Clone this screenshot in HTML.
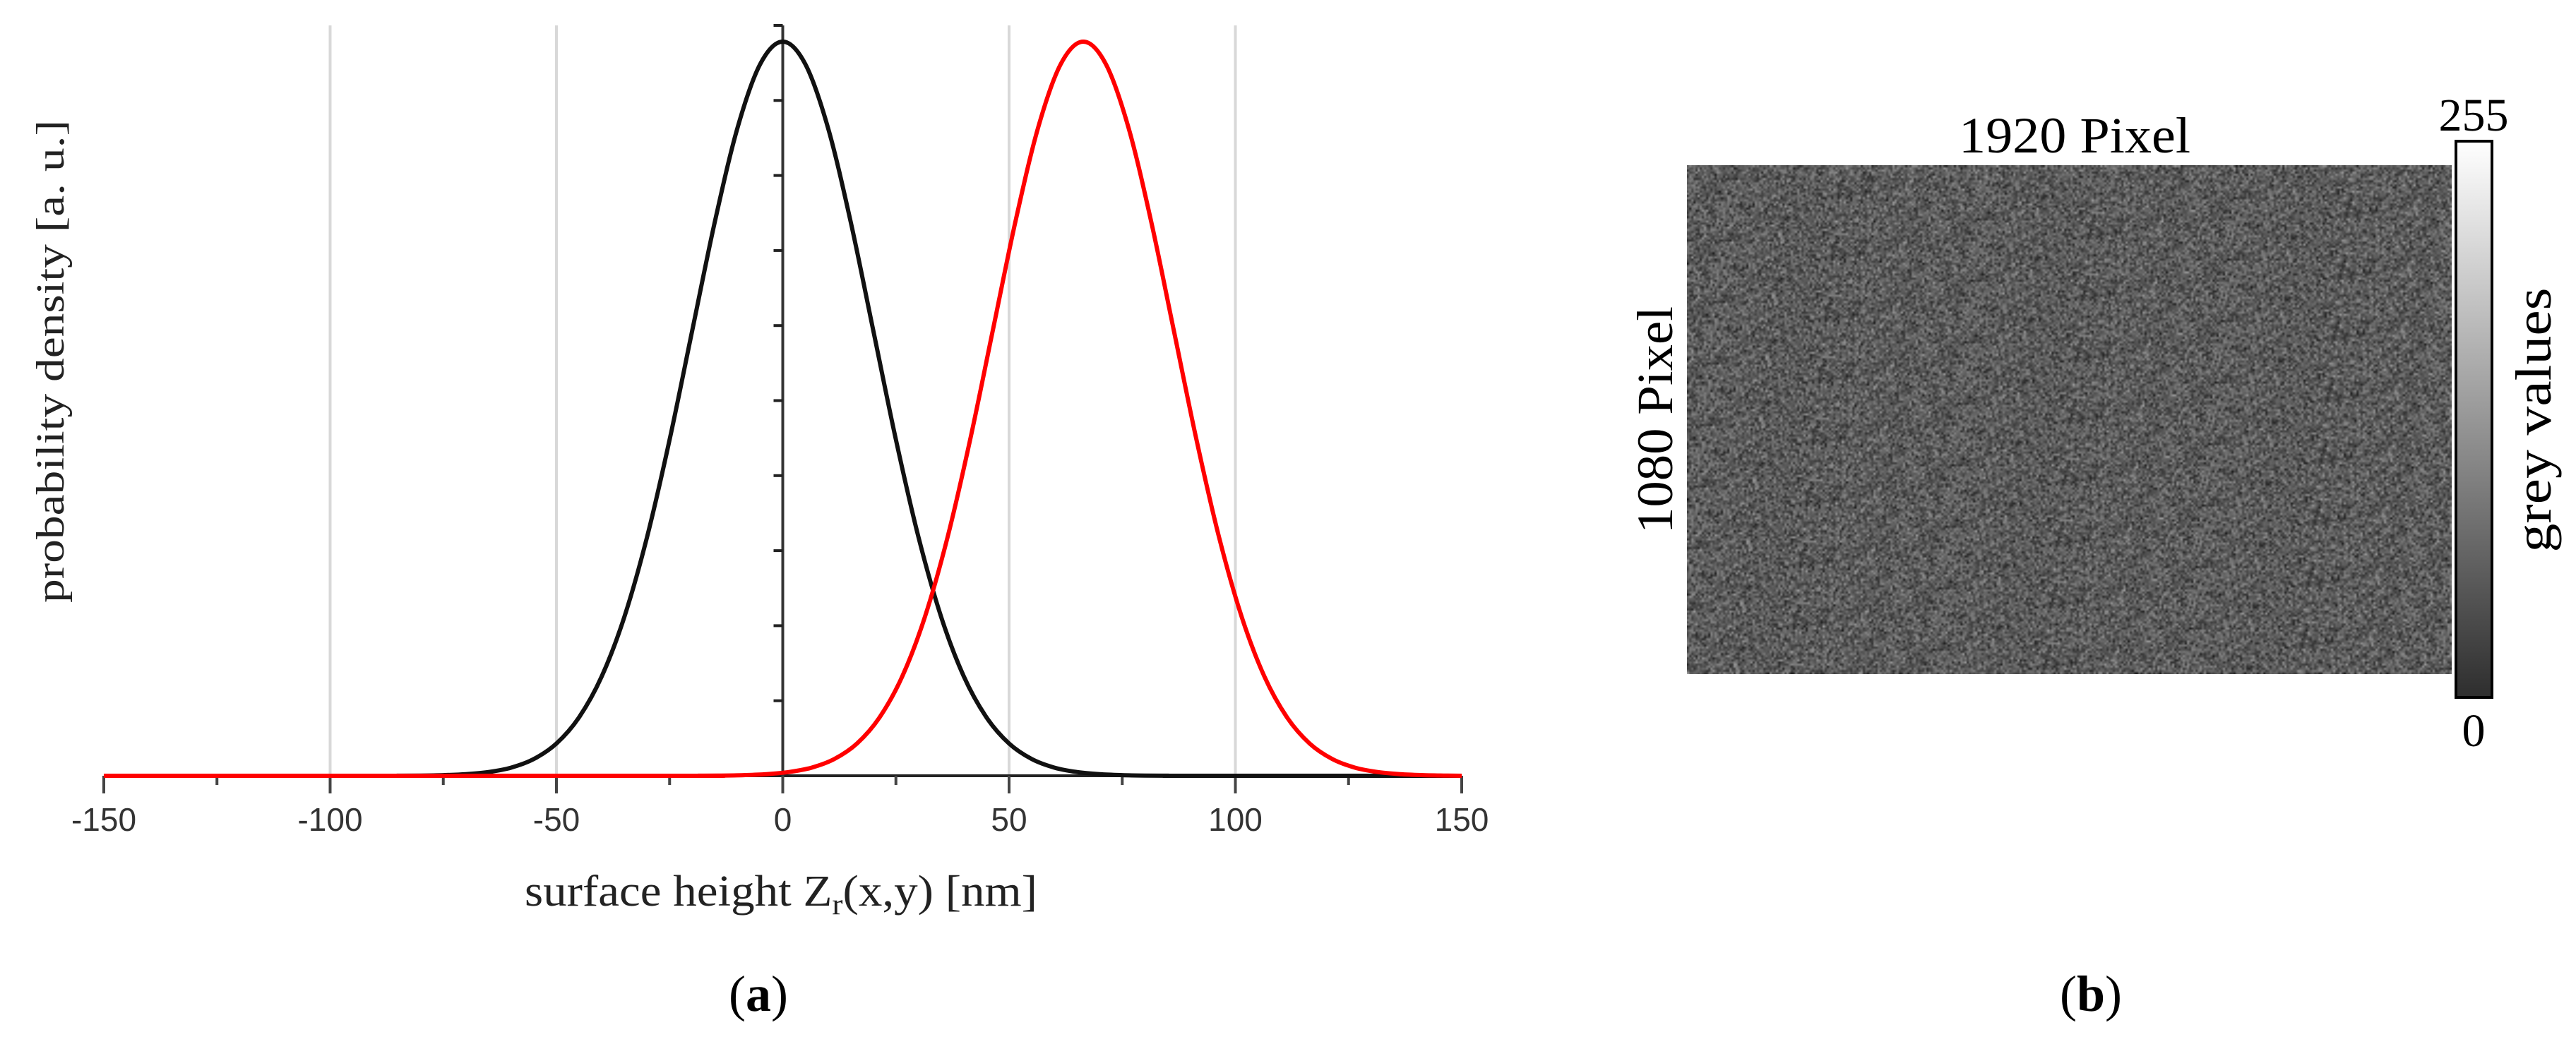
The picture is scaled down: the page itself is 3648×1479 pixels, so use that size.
<!DOCTYPE html>
<html><head><meta charset="utf-8"><style>
html,body{margin:0;padding:0;background:#fff}
body{width:3648px;height:1479px;position:relative;overflow:hidden}
svg{position:absolute;left:0;top:0}
</style></head><body>
<svg id="chart" width="3648" height="1479" viewBox="0 0 3648 1479" xmlns="http://www.w3.org/2000/svg">
<g id="grid"></g>
<g id="axes"></g>
<g id="series"></g>
<text x="0" y="0" transform="translate(90,512) rotate(-90)" text-anchor="middle" font-family="Liberation Serif, serif" font-size="56" fill="#222" textLength="684" lengthAdjust="spacingAndGlyphs">probability density [a. u.]</text>
<text x="743" y="1283" font-family="Liberation Serif, serif" font-size="62" fill="#222" textLength="726" lengthAdjust="spacingAndGlyphs">surface height Z<tspan font-size="42" dy="12">r</tspan><tspan dy="-12">(x,y) [nm]</tspan></text>
<text x="1074" y="1432" text-anchor="middle" font-family="Liberation Serif, serif" font-size="72" fill="#000">(<tspan font-weight="bold">a</tspan>)</text>

<text x="2938" y="216" text-anchor="middle" font-family="Liberation Serif, serif" font-size="72" fill="#000" textLength="328" lengthAdjust="spacingAndGlyphs">1920 Pixel</text>
<text x="0" y="0" transform="translate(2368,595) rotate(-90)" text-anchor="middle" font-family="Liberation Serif, serif" font-size="72" fill="#000" textLength="322" lengthAdjust="spacingAndGlyphs">1080 Pixel</text>
<foreignObject x="2389" y="234" width="1083" height="721">
<canvas id="noise" width="361" height="240" style="width:1083px;height:721px;display:block;image-rendering:auto" xmlns="http://www.w3.org/1999/xhtml"></canvas>
</foreignObject>
<defs><linearGradient id="cb" x1="0" y1="1" x2="0" y2="0"><stop offset="0" stop-color="#2e2e2e"/><stop offset="1" stop-color="#ffffff"/></linearGradient></defs>
<rect x="3478" y="200" width="51" height="788" fill="url(#cb)" stroke="#000" stroke-width="4"/>
<text x="3503" y="185" text-anchor="middle" font-family="Liberation Serif, serif" font-size="66" fill="#000">255</text>
<text x="3503" y="1057" text-anchor="middle" font-family="Liberation Serif, serif" font-size="66" fill="#000">0</text>
<text x="0" y="0" transform="translate(3612,595) rotate(-90)" text-anchor="middle" font-family="Liberation Serif, serif" font-size="72" fill="#000" textLength="375" lengthAdjust="spacingAndGlyphs">grey values</text>
<text x="2961" y="1432" text-anchor="middle" font-family="Liberation Serif, serif" font-size="72" fill="#000">(<tspan font-weight="bold">b</tspan>)</text>
</svg>
<script>
const xTicks = [-150, -100, -50, 0, 50, 100, 150];
const xTickLabels = ["-150", "-100", "-50", "0", "50", "100", "150"];
const gridValues = [-100, -50, 50, 100];
const blackX = [-150,-90,-85,-80,-75,-70,-65,-60,-55,-50,-45,-40,-35,-30,-25,-20,-15,-10,-5,0,5,10,15,20,25,30,35,40,45,50,55,60,65,70,75,80,85,90,150];
const blackY = [0,0,0.0001,0.0003,0.0009,0.0022,0.0051,0.0111,0.0228,0.0439,0.0796,0.1353,0.2163,0.3247,0.4578,0.6065,0.7548,0.8825,0.9692,1,0.9692,0.8825,0.7548,0.6065,0.4578,0.3247,0.2163,0.1353,0.0796,0.0439,0.0228,0.0111,0.0051,0.0022,0.0009,0.0003,0.0001,0,0];
const redX = [-150,-23.6,-18.6,-13.6,-8.6,-3.6,1.4,6.4,11.4,16.4,21.4,26.4,31.4,36.4,41.4,46.4,51.4,56.4,61.4,66.4,71.4,76.4,81.4,86.4,91.4,96.4,101.4,106.4,111.4,116.4,121.4,126.4,131.4,136.4,141.4,146.4,150];
const redY = [0,0,0.0001,0.0003,0.0009,0.0022,0.0051,0.0111,0.0228,0.0439,0.0796,0.1353,0.2163,0.3247,0.4578,0.6065,0.7548,0.8825,0.9692,1,0.9692,0.8825,0.7548,0.6065,0.4578,0.3247,0.2163,0.1353,0.0796,0.0439,0.0228,0.0111,0.0051,0.0022,0.0009,0.0003,0];

const X0 = 147, X1 = 2070, Y0 = 1099, YT = 59, YTOP = 36;
function sx(v){ return X0 + (v + 150) / 300 * (X1 - X0); }
function sy(v){ return Y0 - v * (Y0 - YT); }
const NS = "http://www.w3.org/2000/svg";
function mk(tag, attrs, parent){ const e = document.createElementNS(NS, tag); for (const k in attrs) e.setAttribute(k, attrs[k]); parent.appendChild(e); return e; }

const grid = document.getElementById('grid');
gridValues.forEach(v => {
  const l = mk('line', {x1: sx(v), x2: sx(v), y1: YTOP, y2: Y0, stroke: '#d8d8d8', 'stroke-width': 4}, grid);
  
  
});

const axes = document.getElementById('axes');
const xa = mk('line', {x1: X0, x2: X1, y1: Y0, y2: Y0, stroke: '#222', 'stroke-width': 4}, axes);


const ya = mk('line', {x1: sx(0), x2: sx(0), y1: YTOP, y2: Y0, stroke: '#333', 'stroke-width': 4}, axes);


for (let v = -150; v <= 150; v += 25) {
  const major = v % 50 === 0;
  const t = mk('line', {x1: sx(v), x2: sx(v), y1: Y0, y2: Y0 + (major ? 25 : 13), stroke: '#444', 'stroke-width': 4}, axes);
  
  
}
xTicks.forEach((v, i) => {
  const t = mk('text', {x: sx(v), y: 1177, 'text-anchor': 'middle', 'font-family': 'Liberation Sans, sans-serif', 'font-size': 46, fill: '#333'}, axes);
  t.textContent = xTickLabels[i];
  
  
});
for (let k = 1; k <= 10; k++) {
  const y = Y0 - k * (Y0 - YTOP) / 10;
  const t = mk('line', {x1: sx(0) - 13, x2: sx(0), y1: y, y2: y, stroke: '#222', 'stroke-width': 4}, axes);
  
  
}

function smoothPath(xs, ys){
  const p = xs.map((x, i) => [sx(x), sy(ys[i])]);
  let d = 'M' + p[0][0] + ',' + p[0][1];
  for (let i = 0; i < p.length - 1; i++) {
    const a = p[i - 1] || p[i], b = p[i], c = p[i + 1], e = p[i + 2] || c;
    const c1x = b[0] + (c[0] - a[0]) / 6, c1y = b[1] + (c[1] - a[1]) / 6;
    const c2x = c[0] - (e[0] - b[0]) / 6, c2y = c[1] - (e[1] - b[1]) / 6;
    d += ' C' + c1x + ',' + c1y + ' ' + c2x + ',' + c2y + ' ' + c[0] + ',' + c[1];
  }
  return d;
}
const series = document.getElementById('series');
const bl = mk('path', {d: smoothPath(blackX, blackY), fill: 'none', stroke: '#111', 'stroke-width': 6}, series);


const rd = mk('path', {d: smoothPath(redX, redY), fill: 'none', stroke: '#f00', 'stroke-width': 6}, series);



// noise texture
const cv = document.getElementById('noise');
const ctx = cv.getContext('2d');
const img = ctx.createImageData(cv.width, cv.height);
let s = 12345;
function rnd(){ s = (s * 1103515245 + 12345) & 0x7fffffff; return s / 0x7fffffff; }
for (let i = 0; i < cv.width * cv.height; i++) {
  const g = Math.max(0, Math.min(255, 92 + (rnd() + rnd() + rnd() - 1.5) * 50));
  img.data[i*4] = g; img.data[i*4+1] = g; img.data[i*4+2] = g; img.data[i*4+3] = 255;
}
ctx.putImageData(img, 0, 0);
</script>
</body></html>
